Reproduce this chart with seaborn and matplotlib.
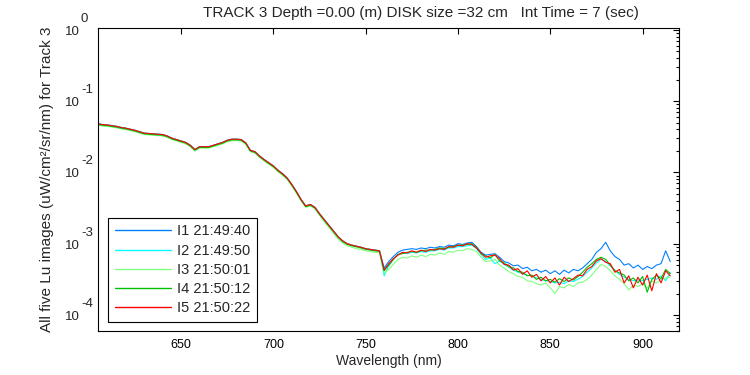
import numpy as np
import pandas as pd
import matplotlib
matplotlib.use("Agg")
import matplotlib.pyplot as plt
import matplotlib.transforms as mtrans
from matplotlib.ticker import LogLocator, NullFormatter, FixedLocator
import seaborn as sns

# ---------------- data ----------------
wavelengths = [
    605, 607.5, 610, 612.5, 615, 617.5, 620, 622.5, 625, 627.5,
    630, 632.5, 635, 637.5, 640, 642.5, 645, 647.5, 650, 652.5,
    655, 657.5, 660, 662.5, 665, 667.5, 670, 672.5, 675, 677.5,
    680, 682.5, 685, 687.5, 690, 692.5, 695, 697.5, 700, 702.5,
    705, 707.5, 710, 712.5, 715, 717.5, 720, 722.5, 725, 727.5,
    730, 732.5, 735, 737.5, 740, 742.5, 745, 747.5, 750, 752.5,
    755, 757.5, 760, 762.5, 765, 767.5, 770, 772.5, 775, 777.5,
    780, 782.5, 785, 787.5, 790, 792.5, 795, 797.5, 800, 802.5,
    805, 807.5, 810, 812.5, 815, 817.5, 820, 822.5, 825, 827.5,
    830, 832.5, 835, 837.5, 840, 842.5, 845, 847.5, 850, 852.5,
    855, 857.5, 860, 862.5, 865, 867.5, 870, 872.5, 875, 877.5,
    880, 882.5, 885, 887.5, 890, 892.5, 895, 897.5, 900, 902.5,
    905, 907.5, 910, 912.5, 915]

# Lu values as log10(uW/cm^2/sr/nm)
i1_log10 = [
    -1.32, -1.33, -1.335, -1.345, -1.355, -1.37, -1.38, -1.395, -1.41, -1.43,
    -1.45, -1.455, -1.46, -1.465, -1.47, -1.49, -1.52, -1.54, -1.56, -1.58,
    -1.62, -1.68, -1.64, -1.64, -1.64, -1.62, -1.60, -1.58, -1.55, -1.535,
    -1.535, -1.54, -1.585, -1.69, -1.71, -1.77, -1.82, -1.865, -1.91, -1.97,
    -2.02, -2.08, -2.17, -2.27, -2.38, -2.47, -2.45, -2.49, -2.58, -2.66,
    -2.74, -2.82, -2.90, -2.96, -3.00, -3.02, -3.035, -3.05, -3.07, -3.08,
    -3.09, -3.10, -3.34, -3.25, -3.18, -3.12, -3.09, -3.08, -3.07, -3.08,
    -3.06, -3.07, -3.05, -3.06, -3.04, -3.05, -3.02, -3.03, -3.00, -3.01,
    -2.99, -2.98, -3.04, -3.12, -3.16, -3.15, -3.14, -3.19, -3.25, -3.27,
    -3.31, -3.30, -3.35, -3.33, -3.38, -3.36, -3.40, -3.37, -3.42, -3.38,
    -3.43, -3.37, -3.41, -3.36, -3.38, -3.34, -3.28, -3.22, -3.12, -3.07,
    -2.98, -3.10, -3.18, -3.22, -3.30, -3.28, -3.34, -3.30, -3.36, -3.32,
    -3.35, -3.30, -3.28, -3.10, -3.25]

i2_log10 = [
    -1.32, -1.33, -1.335, -1.345, -1.355, -1.37, -1.38, -1.395, -1.41, -1.43,
    -1.45, -1.455, -1.46, -1.465, -1.47, -1.49, -1.52, -1.54, -1.56, -1.58,
    -1.62, -1.68, -1.64, -1.64, -1.64, -1.62, -1.60, -1.58, -1.55, -1.535,
    -1.535, -1.54, -1.585, -1.69, -1.71, -1.77, -1.82, -1.865, -1.91, -1.97,
    -2.02, -2.08, -2.17, -2.27, -2.38, -2.47, -2.45, -2.49, -2.58, -2.66,
    -2.74, -2.82, -2.90, -2.96, -3.00, -3.02, -3.035, -3.05, -3.07, -3.08,
    -3.09, -3.10, -3.45, -3.31, -3.22, -3.15, -3.13, -3.14, -3.12, -3.13,
    -3.11, -3.12, -3.10, -3.10, -3.08, -3.09, -3.06, -3.06, -3.04, -3.04,
    -3.03, -3.02, -3.07, -3.15, -3.22, -3.20, -3.28, -3.24, -3.29, -3.33,
    -3.37, -3.40, -3.42, -3.44, -3.45, -3.48, -3.50, -3.52, -3.53, -3.55,
    -3.54, -3.56, -3.52, -3.53, -3.50, -3.46, -3.40, -3.34, -3.27, -3.22,
    -3.25, -3.31, -3.37, -3.43, -3.47, -3.50, -3.52, -3.51, -3.52, -3.50,
    -3.48, -3.50, -3.45, -3.52, -3.40]

i3_log10 = [
    -1.34, -1.35, -1.355, -1.365, -1.375, -1.39, -1.40, -1.415, -1.43, -1.45,
    -1.47, -1.475, -1.48, -1.485, -1.49, -1.51, -1.54, -1.56, -1.58, -1.60,
    -1.64, -1.70, -1.66, -1.66, -1.66, -1.64, -1.62, -1.60, -1.57, -1.555,
    -1.555, -1.56, -1.605, -1.71, -1.73, -1.79, -1.84, -1.885, -1.93, -1.99,
    -2.04, -2.10, -2.19, -2.29, -2.40, -2.49, -2.47, -2.51, -2.60, -2.69,
    -2.77, -2.85, -2.93, -2.99, -3.03, -3.05, -3.07, -3.08, -3.10, -3.11,
    -3.12, -3.13, -3.41, -3.36, -3.29, -3.22, -3.19, -3.20, -3.17, -3.19,
    -3.16, -3.18, -3.15, -3.16, -3.13, -3.15, -3.11, -3.12, -3.09, -3.10,
    -3.07, -3.08, -3.11, -3.19, -3.25, -3.24, -3.22, -3.30, -3.34, -3.39,
    -3.42, -3.46, -3.47, -3.52, -3.53, -3.56, -3.58, -3.55, -3.62, -3.70,
    -3.60, -3.62, -3.57, -3.60, -3.55, -3.54, -3.50, -3.44, -3.36, -3.29,
    -3.32, -3.38, -3.45, -3.50, -3.56, -3.65, -3.58, -3.60, -3.56, -3.62,
    -3.52, -3.55, -3.50, -3.48, -3.47]

i4_log10 = [
    -1.33, -1.34, -1.345, -1.355, -1.365, -1.38, -1.39, -1.405, -1.42, -1.44,
    -1.46, -1.465, -1.47, -1.475, -1.48, -1.50, -1.53, -1.55, -1.57, -1.59,
    -1.63, -1.69, -1.65, -1.65, -1.65, -1.63, -1.61, -1.59, -1.56, -1.545,
    -1.545, -1.55, -1.595, -1.70, -1.72, -1.78, -1.83, -1.875, -1.92, -1.98,
    -2.03, -2.09, -2.18, -2.28, -2.39, -2.48, -2.46, -2.50, -2.59, -2.67,
    -2.75, -2.83, -2.91, -2.97, -3.01, -3.03, -3.045, -3.06, -3.08, -3.09,
    -3.10, -3.11, -3.38, -3.30, -3.22, -3.15, -3.14, -3.12, -3.11, -3.12,
    -3.10, -3.09, -3.09, -3.08, -3.06, -3.07, -3.05, -3.04, -3.02, -3.02,
    -3.01, -3.00, -3.05, -3.14, -3.17, -3.20, -3.15, -3.24, -3.27, -3.32,
    -3.34, -3.39, -3.40, -3.45, -3.44, -3.50, -3.47, -3.52, -3.50, -3.54,
    -3.49, -3.53, -3.48, -3.51, -3.46, -3.40, -3.33, -3.28, -3.22, -3.19,
    -3.22, -3.30, -3.38, -3.41, -3.44, -3.52, -3.48, -3.55, -3.46, -3.68,
    -3.50, -3.44, -3.49, -3.36, -3.42]

i5_log10 = [
    -1.32, -1.33, -1.335, -1.345, -1.355, -1.37, -1.38, -1.395, -1.41, -1.43,
    -1.45, -1.455, -1.46, -1.465, -1.47, -1.49, -1.52, -1.54, -1.56, -1.58,
    -1.62, -1.68, -1.64, -1.64, -1.64, -1.62, -1.60, -1.58, -1.55, -1.535,
    -1.535, -1.54, -1.585, -1.69, -1.71, -1.77, -1.82, -1.865, -1.91, -1.97,
    -2.02, -2.08, -2.17, -2.27, -2.38, -2.47, -2.45, -2.49, -2.58, -2.66,
    -2.74, -2.82, -2.90, -2.96, -3.00, -3.02, -3.035, -3.05, -3.07, -3.08,
    -3.09, -3.10, -3.37, -3.28, -3.21, -3.16, -3.12, -3.13, -3.10, -3.12,
    -3.09, -3.11, -3.08, -3.09, -3.07, -3.08, -3.04, -3.05, -3.02, -3.03,
    -3.00, -3.01, -3.06, -3.13, -3.19, -3.17, -3.16, -3.21, -3.29, -3.30,
    -3.37, -3.35, -3.43, -3.38, -3.47, -3.43, -3.52, -3.46, -3.55, -3.48,
    -3.58, -3.47, -3.53, -3.49, -3.44, -3.45, -3.36, -3.32, -3.24, -3.21,
    -3.26, -3.28, -3.40, -3.36, -3.55, -3.45, -3.62, -3.47, -3.58, -3.44,
    -3.66, -3.42, -3.55, -3.38, -3.45]

series_labels = ["I1 21:49:40", "I2 21:49:50", "I3 21:50:01",
                 "I4 21:50:12", "I5 21:50:22"]
series_colors = ["#0080ff", "#00ffff", "#80ff80", "#00c000", "#ff0000"]

x_ticks = [650, 700, 750, 800, 850, 900]
y_decades = [0, -1, -2, -3, -4]

title_text = "TRACK 3 Depth =0.00 (m) DISK size =32 cm   Int Time = 7 (sec)"
x_label = "Wavelength (nm)"
y_label = "All five Lu images (uW/cm\u00b2/sr/nm) for Track 3"

# ---------------- build table ----------------
all_series = [i1_log10, i2_log10, i3_log10, i4_log10, i5_log10]
frames = []
for lab, vals in zip(series_labels, all_series):
    assert len(vals) == len(wavelengths), (lab, len(vals))
    frames.append(pd.DataFrame({"nm": wavelengths,
                                "lu": np.power(10.0, np.array(vals)),
                                "image": lab}))
df = pd.concat(frames, ignore_index=True)

# ---------------- plot ----------------
sns.set_style("white")
plt.rcParams["font.family"] = ["Liberation Sans", "DejaVu Sans"]

W, H = 750, 375
fig = plt.figure(figsize=(7.5, 3.75), dpi=100)
ax_l, ax_r, ax_t, ax_b = 98, 679.5, 28.3, 331
ax = fig.add_axes([ax_l / W, 1 - ax_b / H, (ax_r - ax_l) / W, (ax_b - ax_t) / H])

sns.lineplot(data=df, x="nm", y="lu", hue="image", hue_order=series_labels,
             palette=dict(zip(series_labels, series_colors)),
             estimator=None, sort=False, linewidth=0.8, legend=False, ax=ax)

ax.set_yscale("log")
ax.set_xlim(605, 920)
ax.set_ylim(10 ** -4.224, 10 ** 0.02)
ax.set_xlabel("")
ax.set_ylabel("")

ax.xaxis.set_major_locator(FixedLocator(x_ticks))
ax.set_xticklabels([str(t) for t in x_ticks])
ax.yaxis.set_major_locator(LogLocator(base=10, numticks=10))
ax.yaxis.set_minor_locator(LogLocator(base=10, subs=np.arange(2, 10), numticks=20))
ax.yaxis.set_major_formatter(NullFormatter())
ax.yaxis.set_minor_formatter(NullFormatter())

ax.tick_params(which="both", direction="in", top=True, right=True,
               colors="black", width=0.8)
ax.tick_params(which="major", length=4)
ax.tick_params(which="minor", length=2.5)
ax.tick_params(axis="x", labelsize=9, pad=5.5)
for sp in ax.spines.values():
    sp.set_color("black")
    sp.set_linewidth(0.8)

# MATLAB-style y tick labels: "10" with raised exponent
ytrans = ax.get_yaxis_transform()
xfrac = (80 - ax_l) / (ax_r - ax_l)
base_tr = mtrans.offset_copy(ytrans, fig=fig, x=0, y=-2, units="dots")
exp_tr = mtrans.offset_copy(ytrans, fig=fig, x=1, y=11, units="dots")
for d in y_decades:
    ax.text(xfrac, 10.0 ** d, "10", transform=base_tr, ha="right", va="center",
            fontsize=9.5, clip_on=False)
    ax.text(xfrac, 10.0 ** d, str(d), transform=exp_tr, ha="left", va="center",
            fontsize=9.5, clip_on=False)

# legend
handles = ax.get_lines()[:5]
leg = ax.legend(handles, series_labels, loc="lower left",
                bbox_to_anchor=(10 / (ax_r - ax_l), 9 / (ax_b - ax_t)),
                borderaxespad=0, fancybox=False, framealpha=1,
                edgecolor="black", fontsize=10.5, handlelength=3.9,
                handletextpad=0.4, labelspacing=0.36, borderpad=0.45)
leg.get_frame().set_linewidth(0.8)
for lh in leg.get_lines():
    lh.set_linewidth(1.0)

fig.text(421 / W, 1 - 13 / H, title_text, ha="center", va="center", fontsize=11)
fig.text((ax_l + ax_r) / 2 / W, 1 - 361 / H, x_label, ha="center", va="center",
         fontsize=10)
fig.text(47 / W, 1 - 179.5 / H, y_label, ha="center", va="center",
         rotation=90, fontsize=11)

fig.savefig("out.png", dpi=100, facecolor="white")
